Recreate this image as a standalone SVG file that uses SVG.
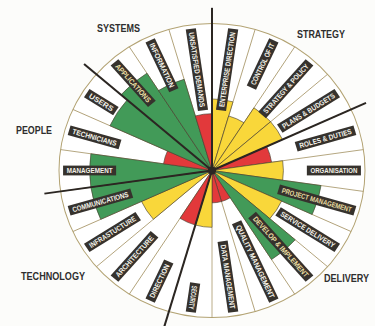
<svg xmlns="http://www.w3.org/2000/svg" width="375" height="326" viewBox="0 0 375 326">
<style>
.seg line{stroke:#a8976a;stroke-width:0.8}
.w path{stroke:#4a4232;stroke-width:0.6}
.g{fill:#429a58}.r{fill:#e2393b}.y{fill:#f9d73a}
.ax line{stroke:#2b2622;stroke-width:2}
.lb rect{fill:#36322d}
.lb text{fill:#f3f1e8;font-family:"Liberation Sans",Arial,sans-serif;font-size:7.4px;font-weight:bold;text-anchor:middle}
.lb text.t{fill:#e8dca0}
.ttl{fill:#2e2e2e;font-family:"Liberation Sans",Arial,sans-serif;font-size:10px;font-weight:bold}
</style>
<rect width="375" height="326" fill="#fcfcfa"/>
<g transform="translate(212 170.5) scale(1.02 0.98)">
 <circle r="150" fill="#ffffff" stroke="#b3a373" stroke-width="1"/>
 <g id="segment-lines" class="seg">
  <line y2="-150"/>
  <line y2="-150" transform="rotate(16.364)"/>
  <line y2="-150" transform="rotate(32.727)"/>
  <line y2="-150" transform="rotate(49.091)"/>
  <line y2="-150" transform="rotate(65.455)"/>
  <line y2="-150" transform="rotate(81.818)"/>
  <line y2="-150" transform="rotate(98.182)"/>
  <line y2="-150" transform="rotate(114.545)"/>
  <line y2="-150" transform="rotate(130.909)"/>
  <line y2="-150" transform="rotate(147.273)"/>
  <line y2="-150" transform="rotate(163.636)"/>
  <line y2="-150" transform="rotate(180)"/>
  <line y2="-150" transform="rotate(196.364)"/>
  <line y2="-150" transform="rotate(212.727)"/>
  <line y2="-150" transform="rotate(229.091)"/>
  <line y2="-150" transform="rotate(245.455)"/>
  <line y2="-150" transform="rotate(261.818)"/>
  <line y2="-150" transform="rotate(278.182)"/>
  <line y2="-150" transform="rotate(294.545)"/>
  <line y2="-150" transform="rotate(310.909)"/>
  <line y2="-150" transform="rotate(327.273)"/>
  <line y2="-150" transform="rotate(343.636)"/>
 </g>
 <g id="wedges" class="w">
  <path class="y" d="M0 0V-73A73 73 0 0 1 20.566 -70.043Z"/>
  <path class="y" d="M0 0V-58A58 58 0 0 1 16.340 -55.650Z" transform="rotate(16.364)"/>
  <path class="y" d="M0 0V-76A76 76 0 0 1 21.411 -72.921Z" transform="rotate(32.727)"/>
  <path class="y" d="M0 0V-76A76 76 0 0 1 21.411 -72.921Z" transform="rotate(49.091)"/>
  <path class="r" d="M0 0V-59A59 59 0 0 1 16.622 -56.610Z" transform="rotate(65.455)"/>
  <path class="y" d="M0 0V-70A70 70 0 0 1 19.721 -67.164Z" transform="rotate(81.818)"/>
  <path class="g" d="M0 0V-108A108 108 0 0 1 30.427 -103.625Z" transform="rotate(98.182)"/>
  <path class="y" d="M0 0V-75A75 75 0 0 1 21.130 -71.962Z" transform="rotate(114.545)"/>
  <path class="g" d="M0 0V-108A108 108 0 0 1 30.427 -103.625Z" transform="rotate(130.909)"/>
  <path class="r" d="M0 0V-33A33 33 0 0 1 9.297 -31.663Z" transform="rotate(147.273)"/>
  <path class="r" d="M0 0V-33A33 33 0 0 1 9.297 -31.663Z" transform="rotate(163.636)"/>
  <path class="y" d="M0 0V-58A58 58 0 0 1 16.340 -55.650Z" transform="rotate(180)"/>
  <path class="r" d="M0 0V-58A58 58 0 0 1 16.340 -55.650Z" transform="rotate(196.364)"/>
  <path class="y" d="M0 0V-76A76 76 0 0 1 21.411 -72.921Z" transform="rotate(229.091)"/>
  <path class="g" d="M0 0V-120A120 120 0 0 1 33.808 -115.139Z" transform="rotate(245.455)"/>
  <path class="g" d="M0 0V-120A120 120 0 0 1 33.808 -115.139Z" transform="rotate(261.818)"/>
  <path class="r" d="M0 0V-48A48 48 0 0 1 13.523 -46.056Z" transform="rotate(278.182)"/>
  <path class="g" d="M0 0V-110A110 110 0 0 1 30.990 -105.544Z" transform="rotate(294.545)"/>
  <path class="g" d="M0 0V-118A118 118 0 0 1 33.244 -113.220Z" transform="rotate(310.909)"/>
  <path class="g" d="M0 0V-97A97 97 0 0 1 27.328 -93.071Z" transform="rotate(327.273)"/>
  <path class="r" d="M0 0V-58A58 58 0 0 1 16.340 -55.650Z" transform="rotate(343.636)"/>
 </g>
 <g id="sector-dividers" class="ax">
  <line y2="-166"/>
  <line y2="-166" transform="rotate(65.455)"/>
  <line y2="-166" transform="rotate(196.364)"/>
  <line y2="-166" transform="rotate(261.818)"/>
  <line y2="-166" transform="rotate(310.909)"/>
 </g>
 <g id="labels" class="lb">
  <g id="enterprise-direction" transform="rotate(8.182) translate(0 -104) rotate(-90)"><rect x="-42" y="-5" width="84" height="10"/><text y="2.6" textLength="77" lengthAdjust="spacingAndGlyphs">ENTERPRISE DIRECTION</text></g>
  <g id="control-of-it" transform="rotate(24.545) translate(0 -119.5) rotate(-90)"><rect x="-26.5" y="-5" width="53" height="10"/><text y="2.6" textLength="46" lengthAdjust="spacingAndGlyphs">CONTROL OF IT</text></g>
  <g id="strategy-policy" transform="rotate(40.909) translate(0 -110.5) rotate(-90)"><rect x="-35.5" y="-5" width="71" height="10"/><text y="2.6" textLength="64" lengthAdjust="spacingAndGlyphs">STRATEGY &amp; POLICY</text></g>
  <g id="plans-budgets" transform="rotate(57.273) translate(0 -112.5) rotate(-90)"><rect x="-33.5" y="-5" width="67" height="10"/><text y="2.6" textLength="60" lengthAdjust="spacingAndGlyphs">PLANS &amp; BUDGETS</text></g>
  <g id="roles-duties" transform="rotate(73.636) translate(0 -116) rotate(-90)"><rect x="-30" y="-5" width="60" height="10"/><text y="2.6" textLength="53" lengthAdjust="spacingAndGlyphs">ROLES &amp; DUTIES</text></g>
  <g id="organisation" transform="rotate(90) translate(0 -119.5) rotate(-90)"><rect x="-26.5" y="-5" width="53" height="10"/><text y="2.6" textLength="46" lengthAdjust="spacingAndGlyphs">ORGANISATION</text></g>
  <g id="project-management" transform="rotate(106.364) translate(0 -107) rotate(-90)"><rect x="-39" y="-5" width="78" height="10"/><text class="t" y="2.6" textLength="71" lengthAdjust="spacingAndGlyphs">PROJECT MANAGEMENT</text></g>
  <g id="service-delivery" transform="rotate(122.727) translate(0 -111.5) rotate(-90)"><rect x="-34.5" y="-5" width="69" height="10"/><text y="2.6" textLength="62" lengthAdjust="spacingAndGlyphs">SERVICE DELIVERY</text></g>
  <g id="develop-implement" transform="rotate(139.091) translate(0 -103) rotate(-90)"><rect x="-43" y="-5" width="86" height="10"/><text class="t" y="2.6" textLength="79" lengthAdjust="spacingAndGlyphs">DEVELOP &amp; IMPLEMENT</text></g>
  <g id="quality-management" transform="rotate(155.455) translate(0 -102) rotate(-90)"><rect x="-44" y="-5" width="88" height="10"/><text y="2.6" textLength="81" lengthAdjust="spacingAndGlyphs">QUALITY MANAGEMENT</text></g>
  <g id="data-management" transform="rotate(171.818) translate(0 -109.5) rotate(-90)"><rect x="-36.5" y="-5" width="73" height="10"/><text y="2.6" textLength="66" lengthAdjust="spacingAndGlyphs">DATA MANAGEMENT</text></g>
  <g id="security" transform="rotate(188.182) translate(0 -131) rotate(-90)"><rect x="-15" y="-5" width="30" height="10"/><text y="2.6" textLength="24" lengthAdjust="spacingAndGlyphs">SECURITY</text></g>
  <g id="direction" transform="rotate(204.545) translate(0 -124) rotate(90)"><rect x="-22" y="-5" width="44" height="10"/><text y="2.6" textLength="37" lengthAdjust="spacingAndGlyphs">DIRECTION</text></g>
  <g id="architecture" transform="rotate(220.909) translate(0 -116) rotate(90)"><rect x="-30" y="-5" width="60" height="10"/><text y="2.6" textLength="53" lengthAdjust="spacingAndGlyphs">ARCHITECTURE</text></g>
  <g id="infrastucture" transform="rotate(237.273) translate(0 -116) rotate(90)"><rect x="-30" y="-5" width="60" height="10"/><text y="2.6" textLength="53" lengthAdjust="spacingAndGlyphs">INFRASTUCTURE</text></g>
  <g id="communications" transform="rotate(253.636) translate(0 -114) rotate(90)"><rect x="-32" y="-5" width="64" height="10"/><text y="2.6" textLength="57" lengthAdjust="spacingAndGlyphs">COMMUNICATIONS</text></g>
  <g id="management" transform="rotate(270) translate(0 -120) rotate(90)"><rect x="-26" y="-5" width="52" height="10"/><text y="2.6" textLength="45" lengthAdjust="spacingAndGlyphs">MANAGEMENT</text></g>
  <g id="technicians" transform="rotate(286.364) translate(0 -120) rotate(90)"><rect x="-26" y="-5" width="52" height="10"/><text y="2.6" textLength="45" lengthAdjust="spacingAndGlyphs">TECHNICIANS</text></g>
  <g id="users" transform="rotate(302.727) translate(0 -129) rotate(90)"><rect x="-17" y="-5" width="34" height="10"/><text y="2.6" textLength="27" lengthAdjust="spacingAndGlyphs">USERS</text></g>
  <g id="applications" transform="rotate(319.091) translate(0 -118) rotate(90)"><rect x="-28" y="-5" width="56" height="10"/><text class="t" y="2.6" textLength="49" lengthAdjust="spacingAndGlyphs">APPLICATIONS</text></g>
  <g id="information" transform="rotate(335.455) translate(0 -118) rotate(90)"><rect x="-28" y="-5" width="56" height="10"/><text y="2.6" textLength="49" lengthAdjust="spacingAndGlyphs">INFORMATION</text></g>
  <g id="unsatisfied-demands" transform="rotate(351.818) translate(0 -104) rotate(90)"><rect x="-42" y="-5" width="84" height="10"/><text y="2.6" textLength="77" lengthAdjust="spacingAndGlyphs">UNSATISFIED DEMANDS</text></g>
 </g>
 <circle id="hub" r="4" fill="#2b2622"/>
</g>
<g id="sector-titles" class="ttl">
 <text x="97" y="32" textLength="43" lengthAdjust="spacingAndGlyphs">SYSTEMS</text>
 <text x="297" y="38" textLength="48" lengthAdjust="spacingAndGlyphs">STRATEGY</text>
 <text x="16" y="134" textLength="36" lengthAdjust="spacingAndGlyphs">PEOPLE</text>
 <text x="21" y="279.5" textLength="64" lengthAdjust="spacingAndGlyphs">TECHNOLOGY</text>
 <text x="324" y="281.5" textLength="45" lengthAdjust="spacingAndGlyphs">DELIVERY</text>
</g>
</svg>
